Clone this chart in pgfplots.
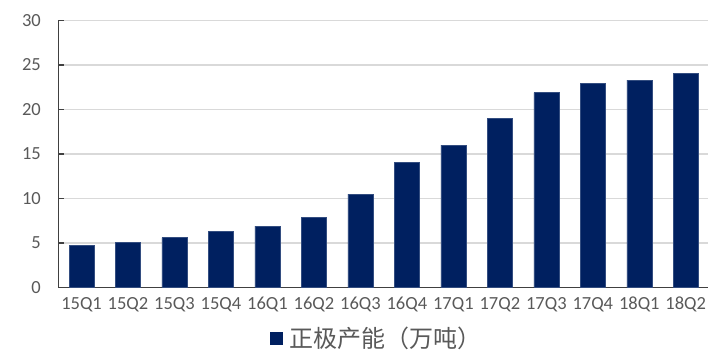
\documentclass[border=0pt]{standalone}
\usepackage{fontspec}
\setmainfont{Carlito}
\newfontfamily\cjk{Noto Sans CJK SC}
\usepackage{pgfplots}
\pgfplotsset{compat=1.18}
\definecolor{navy}{HTML}{002060}
\definecolor{txtgray}{HTML}{595959}
\definecolor{axisgray}{HTML}{404040}
\definecolor{gridgray}{HTML}{D9D9D9}
\begin{document}
\begin{tikzpicture}[x=1bp,y=1bp]
\path[use as bounding box] (0,0) rectangle (708,350);
\begin{axis}[
  at={(58.3bp,62.5bp)}, anchor=south west,
  scale only axis, width=650.7bp, height=267bp,
  xmin=-0.5, xmax=13.5, ymin=0, ymax=30,
  ytick={0,5,...,30},
  xtick=data,
  xticklabels={15Q1,15Q2,15Q3,15Q4,16Q1,16Q2,16Q3,16Q4,17Q1,17Q2,17Q3,17Q4,18Q1,18Q2},
  axis x line*=bottom, axis y line*=left,
  axis line style={axisgray, line width=1.4bp, -},
  ymajorgrids, grid style={gridgray, line width=1.3bp},
  tick align=inside, major tick length=5.5bp,
  major x tick style={draw=none},
  major y tick style={axisgray, line width=1.4bp},
  /pgf/number format/assume math mode=true,
  tick label style={font=\fontsize{18.5bp}{20bp}\selectfont, text=txtgray},
  xticklabel style={yshift=-6bp},
  yticklabel style={xshift=-14bp},
  legend style={at={(0.490,-0.19)}, anchor=center, draw=none, fill=none,
    font=\cjk\fontsize{24bp}{25bp}\selectfont, text=txtgray,
    inner sep=0pt, outer sep=0pt},
  legend image code/.code={\fill[navy] (0bp,-6bp) rectangle (12bp,6bp);},
]
\addplot[ybar, bar width=25bp, fill=navy, draw=navy!80!white, line width=0.5bp]
  coordinates {(0,4.7) (1,5.1) (2,5.6) (3,6.3) (4,6.9) (5,7.9) (6,10.5)
               (7,14.1) (8,16.0) (9,19.0) (10,21.9) (11,22.9) (12,23.3) (13,24.1)};
\addlegendentry{\hspace{5bp}正极产能（万吨）}
\end{axis}
\end{tikzpicture}
\end{document}
